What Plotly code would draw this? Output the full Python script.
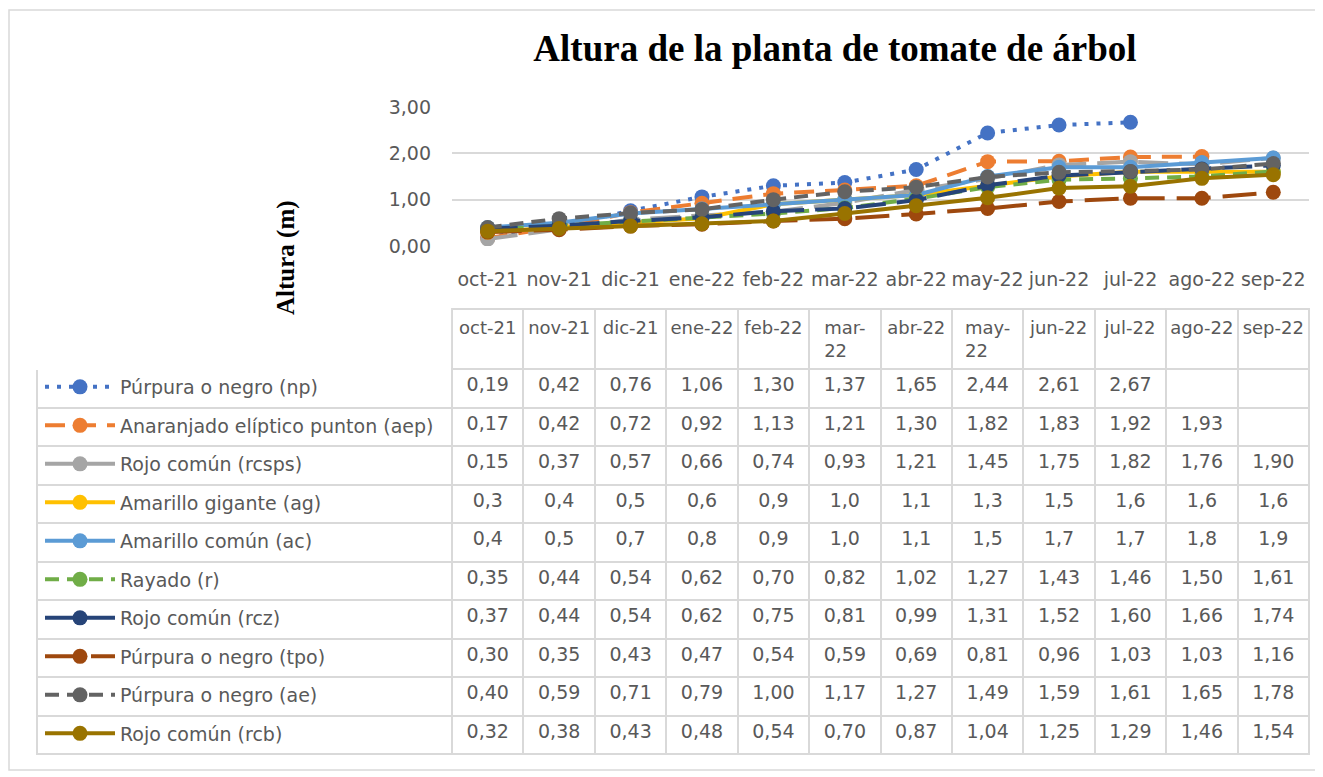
import plotly.graph_objects as go

# reference canvas is 1323x777; the page body adds an 8px offset
OFF = 8
W, H = 1323 - OFF, 777 - OFF

months = ["oct-21", "nov-21", "dic-21", "ene-22", "feb-22", "mar-22",
          "abr-22", "may-22", "jun-22", "jul-22", "ago-22", "sep-22"]
header_months = ["<br>oct-21", "<br>nov-21", "<br>dic-21", "<br>ene-22", "<br>feb-22",
                 "mar-<br>22", "<br>abr-22", "may-<br>22", "<br>jun-22", "<br>jul-22",
                 "<br>ago-22", "<br>sep-22"]

names = ["Púrpura o negro (np)", "Anaranjado elíptico punton (aep)", "Rojo común (rcsps)",
         "Amarillo gigante (ag)", "Amarillo común (ac)", "Rayado (r)", "Rojo común (rcz)",
         "Púrpura o negro (tpo)", "Púrpura o negro (ae)", "Rojo común (rcb)"]

np_vals = [0.19, 0.42, 0.76, 1.06, 1.30, 1.37, 1.65, 2.44, 2.61, 2.67, None, None]
aep_vals = [0.17, 0.42, 0.72, 0.92, 1.13, 1.21, 1.30, 1.82, 1.83, 1.92, 1.93, None]
rcsps_vals = [0.15, 0.37, 0.57, 0.66, 0.74, 0.93, 1.21, 1.45, 1.75, 1.82, 1.76, 1.90]
ag_vals = [0.3, 0.4, 0.5, 0.6, 0.9, 1.0, 1.1, 1.3, 1.5, 1.6, 1.6, 1.6]
ac_vals = [0.4, 0.5, 0.7, 0.8, 0.9, 1.0, 1.1, 1.5, 1.7, 1.7, 1.8, 1.9]
r_vals = [0.35, 0.44, 0.54, 0.62, 0.70, 0.82, 1.02, 1.27, 1.43, 1.46, 1.50, 1.61]
rcz_vals = [0.37, 0.44, 0.54, 0.62, 0.75, 0.81, 0.99, 1.31, 1.52, 1.60, 1.66, 1.74]
tpo_vals = [0.30, 0.35, 0.43, 0.47, 0.54, 0.59, 0.69, 0.81, 0.96, 1.03, 1.03, 1.16]
ae_vals = [0.40, 0.59, 0.71, 0.79, 1.00, 1.17, 1.27, 1.49, 1.59, 1.61, 1.65, 1.78]
rcb_vals = [0.32, 0.38, 0.43, 0.48, 0.54, 0.70, 0.87, 1.04, 1.25, 1.29, 1.46, 1.54]

series = [np_vals, aep_vals, rcsps_vals, ag_vals, ac_vals, r_vals, rcz_vals,
          tpo_vals, ae_vals, rcb_vals]
decimals = [2, 2, 2, 1, 1, 2, 2, 2, 2, 2]

colors = ["#4472C4", "#ED7D31", "#A5A5A5", "#FFC000", "#5B9BD5", "#70AD47",
          "#264478", "#9E480E", "#636363", "#997300"]
dashes = ["4px,8px", "20px,11px", "30px,11px", "solid", "solid", "14px,8px",
          "30px,11px", "34px,12px", "14px,8px", "solid"]

FONT = "DejaVu Sans"
GRAY = "#595959"
GRID = "#D9D9D9"


def px(xp):
    return (xp - OFF) / W


def py(yp):
    return 1 - (yp - OFF) / H


fig = go.Figure()

for name, vals, col, dsh in zip(names, series, colors, dashes):
    fig.add_trace(go.Scatter(
        x=months, y=vals, name=name, mode="lines+markers",
        line=dict(color=col, width=4, dash=dsh),
        marker=dict(color=col, size=15, symbol="circle"),
        legendgroup=name, connectgaps=False,
    ))


def fmt(v, d):
    if v is None:
        return ""
    return f"{v:.{d}f}".replace(".", ",")


cols = [[""] * len(names)]
for j in range(len(months)):
    cols.append([fmt(series[i][j], decimals[i]) for i in range(len(series))])

fig.add_trace(go.Table(
    domain=dict(x=[px(37), px(1309)], y=[py(768), py(308.6)]),
    columnwidth=[415] + [71.4] * 12,
    header=dict(values=[""] + header_months, height=60.4,
                line=dict(color=["white"] + [GRID] * 12, width=2),
                fill=dict(color="white"), align="center",
                font=dict(family=FONT, size=18, color=GRAY)),
    cells=dict(values=cols, height=38.5,
               line=dict(color=GRID, width=2),
               fill=dict(color="white"), align="center",
               font=dict(family=FONT, size=19, color=GRAY)),
))

fig.update_layout(
    width=W, height=H, autosize=False,
    margin=dict(l=0, r=0, t=0, b=0, autoexpand=False),
    paper_bgcolor="white", plot_bgcolor="white",
    separators=",.",
    showlegend=True,
    legend=dict(x=px(40), y=py(368), xanchor="left", yanchor="top",
                font=dict(family=FONT, size=19, color=GRAY),
                itemwidth=70, tracegroupgap=10.8, bgcolor="rgba(0,0,0,0)"),
    title=dict(text="<b>Altura de la planta de tomate de árbol</b>",
               x=px(835), y=py(48), xanchor="center", yanchor="middle",
               font=dict(family="Liberation Serif", size=37, color="black")),
    xaxis=dict(domain=[px(452), px(1309)], range=[-0.5, 11.5], type="category",
               automargin=False,
               showgrid=False, showline=False, ticks="", ticklabelstandoff=20,
               tickfont=dict(family=FONT, size=19, color=GRAY)),
    yaxis=dict(domain=[py(246), py(107)], range=[0, 3], dtick=1, tickformat=".2f",
               automargin=False,
               showgrid=True, gridcolor=GRID, gridwidth=1.5, zeroline=False,
               showline=False, ticks="", ticklabelstandoff=20,
               tickfont=dict(family=FONT, size=19, color=GRAY)),
)

fig.add_annotation(text="<b>Altura (m)</b>", textangle=-90,
                   x=px(286), y=py(258), xref="paper", yref="paper",
                   xanchor="center", yanchor="middle",
                   showarrow=False,
                   font=dict(family="Liberation Serif", size=25, color="black"))

fig.add_shape(type="rect", xref="paper", yref="paper",
              x0=px(9), x1=px(1316), y0=py(770), y1=py(10),
              line=dict(color=GRID, width=1.5))

fig.write_html("out.html")
